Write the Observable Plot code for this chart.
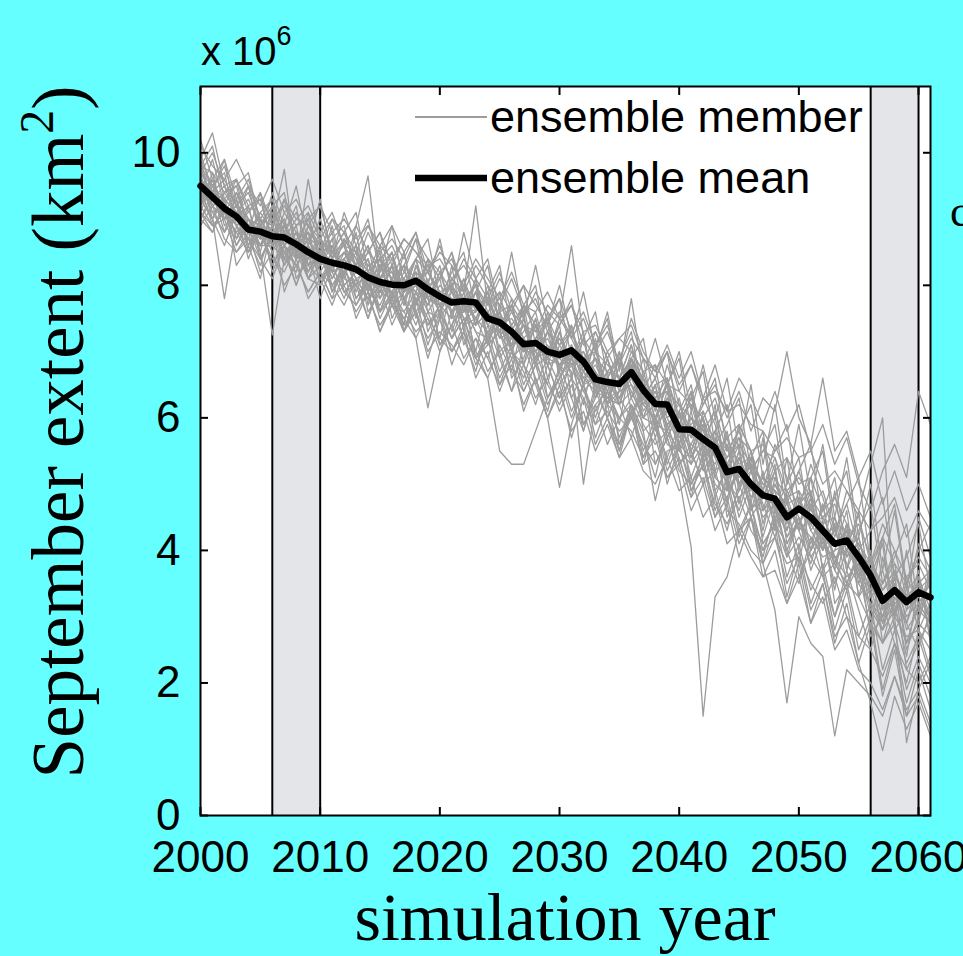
<!DOCTYPE html>
<html>
<head>
<meta charset="utf-8">
<script src="https://cdn.jsdelivr.net/npm/d3@7"></script>
<script src="https://cdn.jsdelivr.net/npm/@observablehq/plot@0.6"></script>
<style>
  html, body { margin: 0; padding: 0; background: #66ffff; }
  svg { display: block; }
</style>
</head>
<body>
<div id="chart"></div>
<script>
// Simulated September sea-ice extent (units of 10^6 km²), one value per year 2000–2061
const years = d3.range(2000, 2062);
const xTicks = [2000, 2010, 2020, 2030, 2040, 2050, 2060];
const yTicks = [0, 2, 4, 6, 8, 10];
const periodStart = [2006, 2056];
const periodEnd = [2010, 2060];

const meanExtent = [
  9.50, 9.33, 9.16, 9.04, 8.84, 8.81, 8.74, 8.72, 8.62, 8.50,
  8.40, 8.34, 8.30, 8.24, 8.12, 8.05, 8.01, 8.00, 8.07, 7.94,
  7.83, 7.74, 7.76, 7.74, 7.50, 7.44, 7.30, 7.11, 7.13, 7.00,
  6.95, 7.02, 6.85, 6.58, 6.54, 6.51, 6.69, 6.42, 6.21, 6.20,
  5.83, 5.82, 5.68, 5.55, 5.18, 5.23, 5.00, 4.83, 4.78, 4.50,
  4.63, 4.50, 4.30, 4.10, 4.15, 3.90, 3.62, 3.24, 3.40, 3.22,
  3.37, 3.29
];

const member01 = [
  9.9, 10.3, 9.5, 9.2, 9.0, 8.6, 9.1, 8.8, 8.4, 8.7,
  8.6, 8.1, 8.4, 8.6, 8.0, 7.8, 8.3, 7.7, 8.2, 8.0,
  7.6, 7.9, 7.4, 7.9, 7.2, 7.6, 7.0, 7.4, 6.8, 7.3,
  6.7, 7.1, 6.5, 6.9, 6.2, 6.8, 6.4, 6.0, 6.5, 5.7,
  6.1, 5.4, 5.9, 5.1, 5.6, 4.7, 5.4, 4.4, 5.0, 4.6,
  4.0, 4.8, 3.7, 4.4, 3.5, 4.0, 3.1, 2.8, 3.6, 2.5,
  3.0, 3.8
];
const member02 = [
  9.3, 9.0, 7.8, 8.9, 8.5, 9.0, 8.2, 8.6, 8.9, 8.1,
  8.3, 8.7, 7.9, 8.0, 8.4, 7.6, 8.1, 8.3, 7.5, 8.0,
  8.1, 7.3, 7.8, 8.0, 7.1, 7.7, 7.4, 6.8, 7.5, 6.6,
  7.1, 7.4, 6.7, 6.3, 6.9, 6.2, 6.7, 6.6, 5.8, 6.4,
  5.5, 6.1, 5.3, 5.8, 4.9, 5.5, 4.6, 5.2, 4.3, 4.9,
  4.5, 4.1, 4.7, 3.8, 4.4, 3.5, 3.9, 2.6, 3.3, 2.9,
  3.6, 2.7
];
const member03 = [
  9.6, 9.4, 9.3, 8.7, 9.2, 8.5, 7.25, 8.4, 8.7, 8.8,
  8.2, 8.5, 8.6, 7.9, 8.3, 8.4, 7.7, 8.1, 8.4, 7.6,
  7.9, 8.0, 7.5, 7.6, 7.8, 7.0, 7.2, 7.5, 6.9, 7.1,
  6.8, 6.6, 7.2, 6.4, 6.7, 6.9, 6.3, 6.6, 6.0, 6.3,
  5.9, 5.5, 6.0, 5.2, 5.4, 5.7, 4.9, 5.1, 4.6, 4.3,
  4.8, 4.3, 4.0, 4.5, 3.7, 4.2, 3.4, 3.7, 3.0, 3.5,
  2.8, 3.2
];
const member04 = [
  9.2, 9.7, 9.0, 9.3, 8.6, 9.0, 8.9, 9.75, 8.4, 9.6,
  8.6, 8.2, 8.7, 8.4, 7.9, 8.2, 8.5, 7.8, 8.0, 8.3,
  7.7, 7.5, 8.1, 7.4, 7.6, 7.3, 7.7, 7.0, 7.2, 7.4,
  6.9, 7.0, 6.6, 6.8, 6.4, 6.2, 6.9, 6.5, 6.3, 5.9,
  6.0, 6.2, 5.6, 5.3, 5.7, 5.0, 5.3, 4.8, 5.2, 4.4,
  4.7, 4.9, 4.2, 3.8, 4.3, 3.6, 3.9, 3.3, 3.0, 3.6,
  3.2, 3.5
];
const member05 = [
  9.8, 9.2, 9.4, 9.1, 8.9, 8.7, 9.0, 8.6, 8.8, 8.3,
  8.7, 8.4, 8.2, 8.9, 9.65, 8.1, 8.3, 7.9, 8.4, 8.2,
  7.8, 8.0, 7.7, 7.6, 7.9, 7.5, 7.1, 7.3, 7.6, 6.9,
  7.2, 6.9, 7.0, 6.5, 6.6, 6.3, 6.8, 6.1, 6.4, 6.0,
  5.6, 6.0, 5.8, 5.4, 5.0, 5.5, 5.2, 4.6, 4.9, 4.7,
  4.3, 4.5, 4.4, 3.9, 4.0, 4.2, 3.5, 3.0, 3.7, 3.1,
  3.3, 3.0
];
const member06 = [
  9.4, 9.6, 9.1, 8.8, 9.0, 8.9, 8.5, 8.9, 8.5, 8.7,
  8.3, 8.6, 8.0, 8.2, 8.5, 8.3, 7.8, 8.2, 8.0, 7.7,
  8.2, 8.4, 7.9, 9.2, 7.7, 7.9, 7.6, 7.2, 7.0, 7.3,
  7.1, 6.8, 6.9, 6.7, 6.3, 6.6, 7.1, 6.2, 6.0, 6.5,
  5.7, 5.9, 6.1, 5.6, 5.1, 5.4, 4.8, 5.1, 4.9, 4.2,
  4.6, 4.4, 4.1, 4.4, 4.3, 3.7, 3.3, 3.5, 3.8, 2.9,
  3.4, 3.6
];
const member07 = [
  9.5, 9.1, 9.2, 8.9, 8.7, 8.6, 8.8, 8.5, 8.3, 8.6,
  8.1, 8.3, 8.5, 8.1, 7.8, 8.0, 7.9, 7.6, 7.9, 7.4,
  7.6, 7.2, 7.5, 7.0, 6.6, 5.5, 5.3, 5.3, 5.8, 6.3,
  6.6, 6.9, 6.4, 6.1, 6.5, 6.3, 6.0, 6.4, 5.9, 6.1,
  5.8, 5.6, 5.4, 5.7, 5.3, 5.0, 5.2, 4.9, 4.5, 4.7,
  4.4, 4.8, 4.1, 4.3, 3.9, 4.1, 3.7, 3.3, 3.1, 3.4,
  3.6, 3.1
];
const member08 = [
  9.0, 9.3, 9.0, 9.2, 8.6, 8.9, 8.6, 8.4, 8.7, 8.2,
  8.5, 8.0, 8.2, 8.3, 7.9, 7.7, 8.1, 7.8, 7.2, 6.15,
  7.0, 7.4, 7.7, 7.3, 7.2, 7.4, 7.0, 6.8, 6.5, 6.0,
  4.95, 5.9, 6.5, 6.6, 6.2, 6.4, 6.5, 6.0, 6.2, 5.6,
  5.5, 5.8, 5.2, 5.5, 5.0, 4.8, 5.0, 4.5, 4.7, 4.0,
  4.5, 4.0, 4.3, 3.9, 3.6, 3.8, 3.4, 2.9, 3.2, 3.3,
  3.0, 3.4
];
const member09 = [
  9.7, 9.5, 9.0, 9.2, 8.8, 8.6, 8.6, 8.8, 8.6, 8.4,
  8.5, 8.6, 8.1, 8.0, 8.2, 8.1, 7.9, 8.3, 8.1, 8.2,
  7.9, 7.6, 7.8, 7.7, 7.5, 7.6, 7.7, 7.4, 7.3, 7.7,
  7.5, 8.6, 7.2, 6.9, 6.7, 6.6, 6.9, 6.6, 6.3, 6.4,
  6.2, 6.0, 5.6, 5.8, 5.4, 5.6, 5.3, 5.0, 5.1, 4.8,
  4.9, 4.6, 4.4, 4.5, 4.0, 3.7, 3.8, 3.4, 3.6, 3.3,
  3.5, 3.7
];
const member10 = [
  9.3, 9.4, 9.1, 8.9, 9.0, 8.7, 8.7, 8.5, 8.6, 8.3,
  8.4, 8.3, 8.4, 8.1, 8.2, 7.9, 7.8, 8.0, 7.9, 7.8,
  7.7, 7.8, 7.5, 7.4, 7.6, 7.2, 7.3, 7.0, 7.0, 6.8,
  6.9, 6.7, 5.0, 6.2, 6.4, 6.0, 6.2, 5.8, 4.75, 5.5,
  5.6, 5.4, 5.7, 5.1, 4.9, 5.2, 4.7, 4.6, 4.8, 4.2,
  4.4, 4.2, 3.9, 4.0, 4.1, 3.6, 3.2, 3.0, 3.5, 3.0,
  3.2, 2.9
];
const member11 = [
  9.4, 9.2, 9.3, 9.1, 8.8, 8.9, 8.6, 8.7, 8.5, 8.6,
  8.3, 8.4, 8.2, 8.3, 8.0, 8.1, 8.2, 7.9, 8.1, 7.8,
  7.7, 7.8, 7.6, 7.7, 7.4, 7.3, 7.2, 7.0, 7.1, 6.9,
  6.8, 6.9, 6.7, 6.5, 6.3, 6.4, 6.5, 6.2, 6.0, 5.7,
  5.1, 4.05, 1.5, 3.3, 3.6, 4.3, 4.5, 4.1, 4.4, 3.9,
  4.2, 3.9, 3.6, 3.8, 3.5, 3.3, 2.9, 2.6, 3.0, 2.7,
  2.8, 2.5
];
const member12 = [
  9.6, 9.3, 9.2, 9.0, 8.9, 8.7, 8.8, 8.6, 8.4, 8.5,
  8.5, 8.2, 8.3, 8.2, 8.1, 7.9, 8.0, 8.1, 7.8, 7.9,
  7.8, 7.6, 7.7, 7.5, 7.3, 7.5, 7.1, 7.2, 6.9, 7.0,
  6.8, 7.0, 6.6, 6.4, 6.3, 6.2, 6.4, 6.0, 5.9, 5.8,
  5.3, 5.5, 5.0, 5.2, 4.6, 4.4, 4.0, 3.8, 3.1, 1.7,
  3.0, 2.6, 2.4, 1.2, 2.2, 2.0, 1.8, 1.5, 2.1, 1.6,
  1.9, 1.4
];
const member13 = [
  9.9, 9.5, 9.8, 9.2, 9.4, 8.9, 9.2, 8.7, 9.0, 8.9,
  8.5, 9.0, 8.6, 8.3, 8.8, 8.4, 8.6, 8.2, 8.7, 8.4,
  8.1, 8.5, 7.9, 8.3, 8.0, 7.7, 8.1, 7.6, 7.8, 7.3,
  7.6, 7.2, 7.5, 7.0, 7.3, 6.8, 7.2, 6.9, 6.6, 7.0,
  6.4, 6.8, 6.2, 6.5, 6.0, 6.4, 5.8, 6.3, 6.1, 7.0,
  6.0, 5.6, 6.6, 5.5, 5.8, 5.1, 5.5, 4.7, 5.2, 4.6,
  5.0, 4.5
];
const member14 = [
  8.9, 9.2, 8.7, 8.5, 8.8, 8.2, 8.5, 8.0, 8.3, 7.9,
  8.2, 7.8, 8.0, 7.6, 7.9, 7.3, 7.7, 7.5, 7.2, 7.6,
  7.1, 7.4, 6.9, 7.2, 6.7, 7.0, 6.4, 6.8, 6.3, 6.6,
  6.1, 6.5, 5.9, 6.2, 5.6, 6.0, 5.8, 5.4, 5.7, 5.1,
  5.4, 4.8, 5.1, 4.5, 4.8, 4.1, 4.5, 3.8, 4.2, 3.5,
  3.9, 3.1, 3.5, 2.7, 3.0, 2.3, 1.7, 0.98, 1.8, 1.3,
  1.7, 1.2
];
const member15 = [
  9.7, 10.0, 9.5, 9.6, 9.1, 9.4, 8.9, 9.3, 9.0, 9.2,
  8.8, 9.1, 8.6, 8.9, 8.5, 8.8, 8.3, 8.7, 8.5, 8.2,
  8.6, 8.0, 8.4, 8.1, 7.8, 8.2, 7.6, 8.0, 7.7, 7.4,
  7.8, 7.3, 7.6, 7.1, 7.4, 6.8, 7.5, 7.0, 6.7, 7.1,
  6.6, 7.0, 6.3, 6.8, 6.1, 6.6, 6.3, 5.9, 6.4, 5.8,
  6.2, 5.5, 5.9, 5.3, 5.7, 5.0, 4.6, 5.2, 5.6, 5.1,
  6.4, 5.9
];
const member16 = [
  9.1, 8.8, 9.2, 8.6, 8.9, 8.4, 8.8, 8.3, 8.7, 8.1,
  8.5, 7.9, 8.3, 7.8, 8.1, 7.5, 7.9, 7.3, 7.8, 7.4,
  7.7, 7.2, 7.5, 6.9, 7.3, 6.7, 7.1, 6.5, 6.9, 6.3,
  6.7, 6.1, 6.5, 5.9, 6.4, 5.7, 6.2, 5.5, 6.0, 5.3,
  5.8, 5.1, 5.6, 4.8, 5.3, 4.5, 5.0, 4.2, 4.8, 3.9,
  4.5, 3.7, 4.2, 3.5, 4.0, 4.6, 5.3, 6.0, 3.0, 1.1,
  1.9, 2.3
];
const member17 = [
  10.2, 9.6, 9.9, 9.3, 9.6, 9.0, 9.3, 8.8, 9.1, 8.6,
  9.0, 8.5, 8.8, 8.3, 8.6, 8.1, 8.5, 7.9, 8.4, 7.8,
  8.2, 7.6, 8.0, 7.4, 7.9, 7.2, 7.7, 7.0, 7.5, 6.8,
  7.3, 6.6, 7.2, 6.4, 6.9, 6.2, 6.8, 6.0, 6.5, 5.8,
  6.3, 5.5, 6.0, 5.2, 5.8, 4.9, 5.5, 4.6, 5.2, 4.3,
  4.9, 4.0, 4.7, 3.7, 4.4, 3.3, 4.0, 2.9, 3.6, 2.6,
  3.2, 2.9
];
const member18 = [
  9.0, 9.4, 8.8, 9.1, 8.4, 8.9, 8.3, 8.6, 8.0, 8.5,
  7.8, 8.3, 7.9, 8.1, 7.5, 8.0, 7.4, 7.8, 7.6, 7.2,
  7.5, 7.0, 7.4, 6.8, 7.2, 6.5, 7.0, 6.7, 6.2, 6.8,
  6.3, 6.6, 5.8, 6.4, 6.0, 5.6, 6.2, 5.4, 5.9, 5.2,
  5.6, 5.0, 5.4, 4.6, 5.1, 4.3, 4.7, 4.0, 4.5, 3.6,
  4.1, 3.4, 3.8, 3.0, 3.5, 2.7, 3.2, 2.2, 2.8, 1.9,
  2.4, 2.0
];
const member19 = [
  9.6, 9.3, 9.5, 9.0, 8.7, 9.1, 8.8, 9.0, 8.5, 8.8,
  8.6, 8.2, 8.7, 8.4, 8.0, 8.3, 8.5, 7.8, 8.2, 8.0,
  7.7, 8.1, 7.8, 7.5, 7.9, 7.3, 7.6, 7.4, 6.9, 7.3,
  7.0, 7.3, 6.8, 6.5, 7.0, 6.6, 6.9, 6.2, 6.5, 6.6,
  5.9, 6.3, 5.7, 6.0, 5.3, 5.7, 5.5, 4.9, 5.4, 4.7,
  5.2, 4.6, 4.9, 4.3, 4.7, 4.0, 3.7, 4.2, 3.8, 3.5,
  3.9, 3.6
];
const member20 = [
  9.4, 9.0, 9.3, 8.7, 9.0, 8.6, 8.9, 8.4, 8.8, 8.2,
  8.6, 8.0, 8.3, 7.7, 8.1, 7.6, 7.9, 7.5, 7.8, 7.1,
  7.6, 7.0, 7.3, 6.9, 7.2, 6.6, 7.0, 6.4, 6.8, 6.2,
  6.6, 6.0, 6.5, 5.7, 6.2, 5.5, 6.1, 5.3, 5.9, 5.0,
  5.6, 4.9, 5.3, 4.5, 5.0, 4.2, 4.7, 3.8, 4.4, 3.3,
  4.0, 3.2, 3.7, 2.8, 3.4, 2.5, 3.0, 1.9, 2.6, 1.7,
  2.3, 1.8
];
const member21 = [
  9.8, 9.7, 9.4, 9.6, 9.2, 9.3, 9.0, 9.2, 8.9, 9.1,
  8.7, 9.0, 8.8, 8.5, 8.9, 8.6, 8.4, 8.7, 8.5, 8.3,
  8.4, 8.1, 8.3, 8.0, 7.7, 8.1, 7.8, 7.5, 7.9, 7.6,
  7.4, 7.7, 7.1, 7.3, 6.9, 7.2, 7.0, 6.7, 6.8, 6.5,
  6.4, 6.2, 6.0, 6.3, 5.7, 5.9, 5.5, 5.6, 5.2, 5.4,
  5.0, 5.1, 4.6, 4.8, 4.4, 4.1, 3.8, 3.5, 4.0, 3.6,
  3.8, 3.4
];
const member22 = [
  9.1, 8.9, 9.0, 8.5, 8.7, 8.4, 8.1, 8.6, 8.3, 7.9,
  8.2, 8.0, 7.7, 8.1, 7.8, 7.4, 7.7, 7.6, 7.3, 7.5,
  7.2, 7.0, 7.3, 6.9, 6.6, 7.1, 6.7, 6.4, 6.8, 6.5,
  6.2, 6.6, 6.3, 5.9, 6.1, 5.8, 6.0, 5.6, 5.3, 5.7,
  5.2, 5.0, 5.3, 4.7, 4.4, 4.8, 4.3, 4.0, 4.2, 3.8,
  3.9, 3.5, 3.2, 3.6, 3.0, 2.7, 2.5, 2.1, 2.6, 2.2,
  2.0, 2.4
];
const member23 = [
  10.1, 9.8, 9.6, 9.9, 9.5, 9.2, 9.6, 9.1, 9.3, 8.9,
  9.2, 8.8, 9.0, 8.7, 8.9, 8.5, 8.7, 8.4, 8.8, 8.2,
  8.5, 8.3, 8.0, 8.4, 8.1, 7.8, 8.2, 7.7, 7.6, 7.9,
  7.5, 7.7, 7.3, 7.4, 7.0, 7.2, 7.4, 6.9, 6.7, 7.0,
  6.5, 6.8, 6.3, 6.4, 6.1, 6.2, 5.9, 5.8, 5.5, 5.7,
  5.4, 5.5, 5.0, 5.2, 4.9, 4.6, 4.3, 4.5, 4.8, 4.2,
  4.6, 4.3
];
const member24 = [
  9.2, 8.9, 9.1, 8.8, 8.5, 8.8, 8.4, 8.2, 8.6, 8.1,
  8.0, 8.3, 7.9, 7.7, 8.0, 7.6, 7.8, 7.3, 7.6, 7.0,
  7.3, 7.1, 6.8, 7.2, 6.9, 6.5, 6.8, 6.2, 6.6, 6.0,
  6.4, 5.8, 6.1, 5.5, 5.9, 5.4, 5.7, 5.2, 5.0, 5.4,
  4.9, 5.1, 4.5, 4.8, 4.1, 4.3, 3.9, 3.6, 3.7, 3.2,
  3.6, 2.9, 3.3, 2.5, 2.8, 2.2, 2.0, 1.6, 2.1, 1.5,
  1.8, 1.3
];
const member25 = [
  9.7, 9.4, 9.6, 9.2, 9.5, 9.0, 8.6, 9.1, 8.8, 8.7,
  8.9, 8.4, 8.6, 8.5, 8.2, 8.4, 8.1, 8.3, 8.0, 8.2,
  7.9, 7.7, 8.1, 7.6, 7.8, 7.4, 7.5, 7.2, 7.4, 6.9,
  7.2, 6.8, 7.0, 6.7, 6.4, 6.9, 6.5, 6.3, 6.6, 6.0,
  6.2, 5.8, 6.0, 5.5, 5.7, 5.3, 5.4, 5.0, 4.9, 4.7,
  4.8, 4.4, 4.5, 4.1, 4.3, 3.6, 3.9, 3.1, 3.5, 2.8,
  3.1, 2.9
];
const member26 = [
  9.3, 9.6, 9.1, 9.4, 8.9, 9.0, 8.7, 8.9, 8.6, 8.4,
  8.7, 8.5, 8.2, 8.6, 8.3, 8.1, 8.4, 7.9, 8.1, 7.7,
  8.0, 7.8, 7.6, 7.9, 7.4, 7.6, 7.2, 7.4, 7.0, 7.2,
  6.8, 7.1, 6.7, 6.9, 6.5, 6.3, 6.6, 6.2, 6.4, 5.9,
  6.1, 5.7, 5.9, 5.4, 5.6, 5.1, 5.3, 4.8, 5.0, 4.6,
  4.4, 4.7, 4.0, 4.3, 3.8, 3.5, 3.2, 2.8, 3.1, 2.6,
  2.9, 2.7
];
const member27 = [
  9.5, 9.2, 9.0, 9.3, 8.8, 8.6, 8.9, 8.5, 8.7, 8.3,
  8.1, 8.4, 8.2, 8.0, 7.8, 8.1, 7.7, 7.9, 8.0, 7.6,
  7.5, 7.8, 7.4, 7.5, 7.1, 7.3, 6.9, 7.1, 6.8, 6.9,
  6.5, 6.8, 6.4, 6.6, 6.2, 6.0, 6.3, 5.9, 5.6, 5.8,
  5.5, 5.3, 5.6, 5.0, 4.8, 5.2, 4.6, 4.9, 4.4, 4.1,
  4.5, 3.9, 4.2, 3.7, 3.4, 3.8, 3.0, 2.6, 2.9, 2.3,
  2.7, 2.1
];
const member28 = [
  9.8, 9.5, 9.3, 9.1, 9.3, 8.9, 9.1, 8.8, 8.5, 8.9,
  8.6, 8.3, 8.5, 8.2, 8.4, 7.9, 8.3, 8.1, 7.9, 8.4,
  8.2, 7.9, 7.7, 8.0, 7.6, 7.8, 7.4, 7.7, 7.3, 7.5,
  7.1, 7.3, 6.9, 7.0, 6.8, 6.6, 7.1, 6.5, 6.3, 6.6,
  6.0, 6.4, 5.8, 6.1, 5.5, 5.8, 5.2, 5.5, 5.4, 4.9,
  5.1, 4.8, 4.5, 4.7, 4.2, 4.4, 3.9, 3.4, 3.7, 3.2,
  3.5, 3.0
];
const member29 = [
  10.0, 9.4, 9.9, 9.0, 9.5, 8.7, 9.4, 8.9, 9.5, 8.6,
  9.3, 8.4, 9.1, 8.6, 9.0, 8.2, 8.9, 8.5, 8.8, 8.0,
  8.7, 7.9, 8.8, 8.1, 8.4, 7.6, 8.5, 7.5, 8.3, 7.4,
  8.0, 7.2, 7.9, 7.0, 7.6, 6.7, 7.8, 6.6, 7.2, 6.5,
  7.0, 6.1, 6.8, 6.0, 6.6, 5.5, 6.5, 5.3, 6.2, 5.0,
  5.9, 4.8, 5.6, 4.5, 5.4, 4.2, 5.0, 3.7, 4.6, 3.4,
  4.5, 3.9
];
const member30 = [
  9.0, 8.8, 9.3, 8.3, 8.6, 8.1, 8.9, 7.9, 8.4, 7.8,
  8.1, 7.7, 8.2, 7.5, 7.9, 7.3, 7.8, 7.4, 7.6, 6.9,
  7.5, 6.8, 7.3, 6.6, 7.0, 6.4, 6.9, 6.1, 6.6, 6.0,
  6.5, 5.7, 6.3, 5.6, 6.0, 5.4, 6.1, 5.3, 5.5, 5.1,
  5.3, 4.6, 5.0, 4.3, 4.7, 3.9, 4.5, 3.6, 4.0, 3.2,
  3.8, 2.9, 3.5, 2.6, 3.2, 2.3, 2.9, 1.8, 2.5, 1.5,
  2.2, 1.6
];
const member31 = [
  9.4, 9.9, 9.2, 9.6, 8.8, 9.4, 8.6, 9.3, 8.5, 9.1,
  8.3, 8.9, 8.1, 8.8, 7.9, 8.6, 7.8, 8.5, 7.7, 8.4,
  7.5, 8.3, 7.3, 8.1, 7.2, 7.9, 7.0, 7.7, 6.8, 7.6,
  6.7, 7.4, 6.5, 7.2, 6.2, 7.0, 6.3, 6.9, 5.9, 6.6,
  5.6, 6.4, 5.4, 6.2, 5.0, 5.9, 4.7, 5.7, 4.4, 5.4,
  4.3, 5.1, 4.0, 4.9, 3.7, 4.6, 3.3, 4.2, 3.0, 4.0,
  2.9, 3.7
];
const member32 = [
  9.6, 9.1, 8.8, 9.4, 9.0, 8.5, 9.2, 8.4, 8.2, 8.9,
  8.7, 7.9, 8.4, 8.6, 7.7, 8.3, 8.1, 7.4, 8.3, 7.8,
  7.2, 8.0, 7.7, 7.0, 7.8, 7.3, 6.7, 7.5, 7.0, 6.5,
  7.3, 6.8, 6.2, 7.0, 6.5, 5.9, 6.9, 6.4, 5.7, 6.3,
  5.9, 5.3, 6.1, 5.6, 4.7, 5.4, 5.0, 4.3, 5.1, 4.5,
  3.8, 4.7, 4.2, 3.4, 4.4, 3.7, 2.8, 3.9, 3.2, 2.4,
  3.5, 2.9
];
const member33 = [
  9.2, 9.5, 9.7, 8.9, 9.1, 9.3, 8.6, 8.8, 9.2, 8.3,
  8.5, 8.8, 8.0, 8.2, 8.6, 7.8, 8.1, 8.5, 7.6, 7.9,
  8.3, 7.5, 7.6, 8.1, 7.1, 7.3, 7.8, 6.8, 7.2, 7.5,
  6.6, 6.9, 7.3, 6.3, 6.6, 7.0, 6.1, 6.4, 6.8, 5.8,
  6.1, 6.5, 5.5, 5.8, 6.2, 5.0, 5.4, 5.8, 4.6, 5.0,
  5.4, 4.3, 4.6, 5.1, 3.9, 4.3, 4.7, 3.5, 3.9, 4.4,
  3.1, 3.6
];
const member34 = [
  9.9, 9.2, 9.0, 9.3, 8.5, 8.9, 9.1, 8.3, 8.6, 8.8,
  8.0, 8.4, 8.7, 7.8, 8.1, 8.5, 7.5, 7.9, 8.2, 7.3,
  7.7, 8.0, 7.1, 7.5, 7.8, 6.9, 7.2, 7.6, 6.5, 6.9,
  7.4, 6.3, 6.7, 7.1, 6.0, 6.4, 6.9, 5.8, 6.0, 6.5,
  5.3, 5.6, 6.0, 4.9, 5.2, 5.6, 4.5, 4.8, 5.3, 4.1,
  4.4, 4.9, 3.7, 4.0, 4.6, 3.3, 3.6, 4.1, 2.8, 3.1,
  3.7, 2.6
];
const member35 = [
  9.1, 9.6, 8.9, 9.0, 9.2, 8.4, 8.7, 9.0, 8.1, 8.4,
  8.8, 7.9, 8.2, 8.5, 7.6, 7.9, 8.3, 7.3, 7.7, 8.1,
  7.1, 7.4, 7.9, 6.9, 7.1, 7.6, 6.6, 6.9, 7.4, 6.3,
  6.6, 7.0, 5.9, 6.3, 6.7, 5.6, 6.0, 6.5, 5.3, 5.7,
  6.1, 4.9, 5.3, 5.7, 4.5, 4.9, 5.3, 4.1, 4.4, 4.8,
  3.6, 4.0, 4.4, 3.2, 3.5, 3.9, 2.7, 3.0, 3.5, 2.2,
  2.6, 3.0
];
const member36 = [
  9.7, 9.0, 9.4, 9.5, 8.8, 9.1, 9.3, 8.6, 8.9, 9.0,
  8.4, 8.7, 8.9, 8.2, 8.5, 8.8, 8.0, 8.3, 8.7, 7.8,
  8.1, 8.5, 7.6, 7.9, 8.3, 7.4, 7.7, 8.0, 7.1, 7.5,
  7.8, 6.9, 7.2, 7.6, 6.6, 6.9, 7.3, 6.3, 6.6, 7.0,
  5.9, 6.3, 6.7, 5.6, 5.9, 6.3, 5.2, 5.5, 5.9, 4.8,
  5.2, 5.6, 4.4, 4.8, 5.2, 4.0, 4.3, 4.8, 3.6, 3.9,
  4.4, 3.4
];
const member37 = [
  9.3, 9.0, 8.6, 9.1, 8.7, 8.3, 8.9, 8.5, 8.0, 8.6,
  8.2, 7.8, 8.4, 8.0, 7.5, 8.1, 7.7, 7.3, 7.9, 7.5,
  7.0, 7.6, 7.2, 6.7, 7.4, 6.9, 6.4, 7.1, 6.6, 6.1,
  6.8, 6.3, 5.8, 6.5, 6.0, 5.5, 6.2, 5.7, 5.1, 5.9,
  5.4, 4.8, 5.5, 4.9, 4.3, 5.0, 4.5, 3.9, 4.6, 4.0,
  3.5, 4.2, 3.6, 3.0, 3.7, 3.1, 2.5, 3.2, 2.6, 2.0,
  2.8, 2.2
];
const member38 = [
  9.8, 10.1, 9.3, 9.5, 9.7, 8.9, 9.2, 9.4, 8.6, 9.0,
  9.2, 8.5, 8.8, 9.1, 8.2, 8.6, 8.9, 8.0, 8.4, 8.7,
  7.8, 8.2, 8.5, 7.6, 7.9, 8.3, 7.3, 7.7, 8.0, 7.0,
  7.4, 7.8, 6.8, 7.1, 7.5, 6.5, 6.9, 7.2, 6.2, 6.5,
  6.9, 5.8, 6.2, 6.6, 5.5, 5.8, 6.2, 5.1, 5.5, 5.9,
  4.7, 5.1, 5.5, 4.3, 4.7, 5.1, 3.8, 4.2, 4.7, 3.5,
  4.0, 4.4
];
const member39 = [
  9.5, 8.9, 9.1, 8.6, 9.0, 8.8, 8.3, 8.7, 8.5, 8.1,
  8.5, 8.2, 7.8, 8.3, 8.0, 7.6, 8.1, 7.8, 7.4, 7.9,
  7.6, 7.2, 7.7, 7.3, 6.9, 7.5, 7.0, 6.6, 7.2, 6.8,
  6.3, 6.9, 6.5, 6.0, 6.6, 6.2, 5.7, 6.3, 5.9, 5.4,
  5.9, 5.5, 5.0, 5.6, 5.1, 4.6, 5.2, 4.7, 4.2, 4.8,
  4.3, 3.8, 4.4, 3.9, 3.4, 4.0, 3.3, 2.8, 3.4, 2.9,
  2.5, 3.1
];
const member40 = [
  9.6, 9.4, 9.0, 9.2, 8.9, 8.6, 8.8, 8.9, 8.4, 8.7,
  8.6, 8.1, 8.5, 8.3, 7.9, 8.4, 8.2, 7.7, 8.3, 8.0,
  7.6, 8.1, 7.9, 7.4, 8.0, 7.5, 7.1, 7.7, 7.4, 6.9,
  7.5, 7.2, 6.8, 7.3, 6.9, 6.4, 7.0, 6.7, 6.1, 6.8,
  6.2, 5.7, 6.3, 5.9, 5.2, 5.9, 5.5, 4.9, 5.6, 5.1,
  4.6, 5.3, 4.8, 4.2, 4.9, 4.5, 3.8, 4.4, 4.0, 3.3,
  4.1, 3.7
];

const members = [
  member01, member02, member03, member04, member05, member06, member07, member08,
  member09, member10, member11, member12, member13, member14, member15, member16,
  member17, member18, member19, member20, member21, member22, member23, member24,
  member25, member26, member27, member28, member29, member30, member31, member32,
  member33, member34, member35, member36, member37, member38, member39, member40
];

// Long-format rows for Plot
const memberRows = members.flatMap((values, m) =>
  values.map((v, i) => ({member: m, year: years[i], extent: v}))
);
const meanRows = meanExtent.map((v, i) => ({year: years[i], extent: v}));
const periods = periodStart.map((s, i) => ({start: s, end: periodEnd[i]}));
const periodEdges = [...periodStart, ...periodEnd];

const chart = Plot.plot({
  width: 963,
  height: 956,
  marginLeft: 200,
  marginRight: 33,
  marginTop: 86,
  marginBottom: 141,
  style: {background: "#66ffff", fontFamily: "'Liberation Sans', Arial, sans-serif", color: "black"},
  x: {domain: [2000, 2061]},
  y: {domain: [0, 11]},
  marks: [
    Plot.frame({fill: "white"}),
    Plot.rect(periods, {x1: "start", x2: "end", fill: "#e3e5e8"}),
    Plot.ruleX(periodEdges, {stroke: "black", strokeWidth: 2}),
    Plot.line(memberRows, {x: "year", y: "extent", z: "member", stroke: "#9c9c9c", strokeWidth: 1.3}),
    Plot.line(meanRows, {x: "year", y: "extent", stroke: "black", strokeWidth: 6.5, strokeLinejoin: "round"}),
    Plot.frame({stroke: "black", strokeWidth: 2}),
    // inward tick marks on all four sides
    Plot.axisX({anchor: "bottom", ticks: xTicks, tickSize: -8, fill: "none", strokeWidth: 2}),
    Plot.axisX({anchor: "top", ticks: xTicks, tickSize: -8, fill: "none", strokeWidth: 2}),
    Plot.axisY({anchor: "left", ticks: yTicks, tickSize: -8, fill: "none", strokeWidth: 2}),
    Plot.axisY({anchor: "right", ticks: yTicks, tickSize: -8, fill: "none", strokeWidth: 2}),
    // tick labels
    Plot.axisX({anchor: "bottom", ticks: xTicks, tickSize: 0, tickPadding: 25, tickFormat: d => String(d), fontSize: 44, label: null}),
    Plot.axisY({anchor: "left", ticks: yTicks, tickSize: 0, tickPadding: 20, fontSize: 44, label: null})
  ]
});

document.getElementById("chart").append(chart);

const svg = d3.select(chart);

// axis titles
const yTitle = svg.append("text")
  .attr("transform", "translate(83,432) rotate(-90)")
  .attr("text-anchor", "middle")
  .attr("font-family", "'Liberation Serif', 'Times New Roman', serif")
  .attr("font-size", 73)
  .attr("fill", "black");
yTitle.append("tspan").text("September extent (km");
yTitle.append("tspan").attr("font-size", 48).attr("dy", -30).text("2");
yTitle.append("tspan").attr("dy", 30).text(")");

svg.append("text")
  .attr("x", 565)
  .attr("y", 940)
  .attr("text-anchor", "middle")
  .attr("font-family", "'Liberation Serif', 'Times New Roman', serif")
  .attr("font-size", 68)
  .attr("fill", "black")
  .text("simulation year");

// scale factor above the y axis
const factor = svg.append("text")
  .attr("x", 201)
  .attr("y", 65)
  .attr("text-anchor", "start")
  .attr("font-family", "'Liberation Sans', Arial, sans-serif")
  .attr("font-size", 40)
  .attr("fill", "black");
factor.append("tspan").text("x 10");
factor.append("tspan").attr("font-size", 27).attr("dy", -20).text("6");

// legend
const legend = svg.append("g")
  .attr("font-family", "'Liberation Sans', Arial, sans-serif")
  .attr("font-size", 45)
  .attr("text-anchor", "start");
legend.append("line").attr("x1", 415).attr("x2", 487).attr("y1", 117).attr("y2", 117)
  .attr("stroke", "#9c9c9c").attr("stroke-width", 2);
legend.append("text").attr("x", 490).attr("y", 132).attr("fill", "black").text("ensemble member");
legend.append("line").attr("x1", 415).attr("x2", 487).attr("y1", 178).attr("y2", 178)
  .attr("stroke", "black").attr("stroke-width", 6.5);
legend.append("text").attr("x", 490).attr("y", 193).attr("fill", "black").text("ensemble mean");

// edge of the neighbouring panel's label
svg.append("text")
  .attr("x", 950)
  .attr("y", 226)
  .attr("text-anchor", "start")
  .attr("font-family", "'Liberation Serif', 'Times New Roman', serif")
  .attr("font-size", 44)
  .attr("fill", "black")
  .text("c");
</script>
</body>
</html>
